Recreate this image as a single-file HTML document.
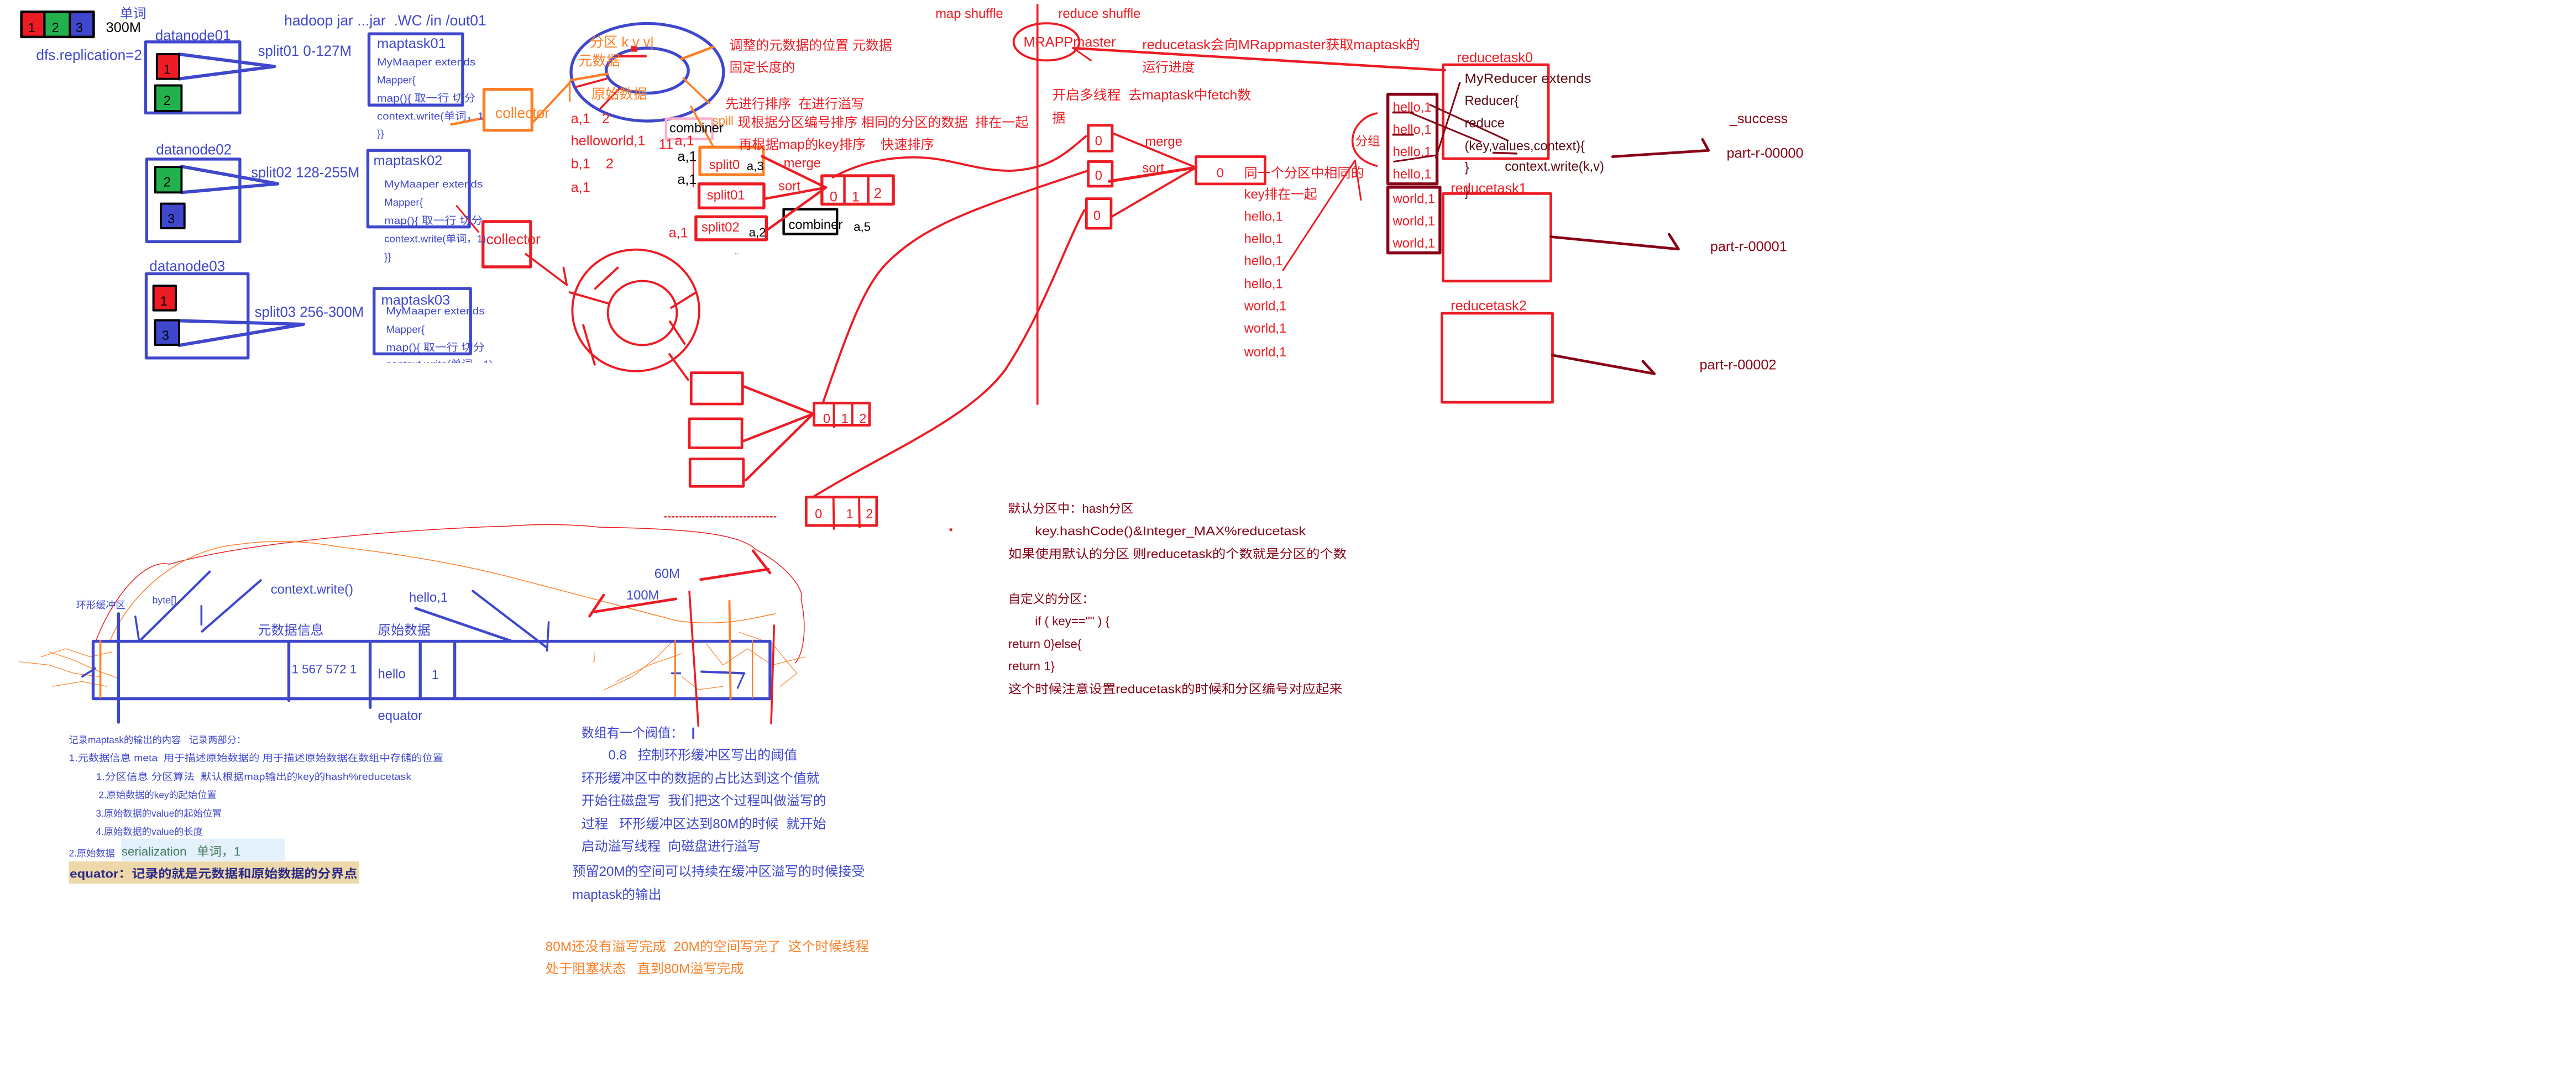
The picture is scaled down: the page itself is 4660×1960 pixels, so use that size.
<!DOCTYPE html>
<html><head><meta charset="utf-8"><style>
html,body{margin:0;padding:0;background:#fff;}
svg{display:block;}
text{font-family:"Liberation Sans","Noto Sans CJK SC",sans-serif;white-space:pre;}
</style></head><body>
<svg xmlns="http://www.w3.org/2000/svg" xml:space="preserve" width="4660" height="1960" viewBox="0 0 1568 659.5" preserveAspectRatio="none">
<defs><clipPath id="c3"><rect x="200" y="160" width="120" height="61"/></clipPath></defs>
<rect x="0" y="0" width="1568" height="660" fill="#fff"/>
<g fill="none" stroke-linecap="round" stroke-linejoin="round">
<rect x="13" y="7.2" width="14" height="15.3" fill="#ed1c24" stroke="#000" stroke-width="1.5"/>
<rect x="27" y="7.2" width="15.6" height="15.3" fill="#22b14c" stroke="#000" stroke-width="1.5"/>
<rect x="42.6" y="7.2" width="14.4" height="15.3" fill="#3f48cc" stroke="#000" stroke-width="1.5"/>
<g stroke="#3f48cc" stroke-width="1.8">
<rect x="88.6" y="25.5" width="57.4" height="43.3"/>
<rect x="89.3" y="96.9" width="56.7" height="50.3"/>
<rect x="89" y="166.7" width="62" height="51.3"/>
<rect x="224.6" y="20.6" width="57" height="43.4"/>
<rect x="223.9" y="91.6" width="61.8" height="46.6"/>
<rect x="227.7" y="175.7" width="58.7" height="39.8"/>
<polyline points="109,33 167,40.5 109,48" stroke-width="2"/>
<polyline points="110.6,101.4 169,111.9 110.6,117.2" stroke-width="2"/>
<polyline points="109,195.3 184.7,197.5 109,210.3" stroke-width="2"/>
</g>
<rect x="95.5" y="33" width="13.5" height="15" fill="#ed1c24" stroke="#000" stroke-width="1.3"/>
<rect x="94.5" y="52" width="16" height="15.6" fill="#22b14c" stroke="#000" stroke-width="1.3"/>
<rect x="94.5" y="101.7" width="16" height="15.5" fill="#22b14c" stroke="#000" stroke-width="1.3"/>
<rect x="97.9" y="124" width="14.4" height="15" fill="#3f48cc" stroke="#000" stroke-width="1.3"/>
<rect x="93.4" y="174" width="13.6" height="15" fill="#ed1c24" stroke="#000" stroke-width="1.3"/>
<rect x="94.4" y="195" width="14.6" height="15" fill="#3f48cc" stroke="#000" stroke-width="1.3"/>
<rect x="294.6" y="54.4" width="29.2" height="24.9" stroke="#ff7f27" stroke-width="1.8"/>
<line x1="274.7" y1="75.8" x2="294.6" y2="71.8" stroke="#ff7f27" stroke-width="1.5"/>
<line x1="323.8" y1="75.1" x2="347.5" y2="49.6" stroke="#ff7f27" stroke-width="1.3"/>
<line x1="346.8" y1="49.6" x2="346.8" y2="61.6" stroke="#ff7f27" stroke-width="1"/>
<rect x="294" y="134.9" width="29" height="27.6" stroke="#ed1c24" stroke-width="1.8"/>
<line x1="278" y1="125.4" x2="291.2" y2="141.2" stroke="#ed1c24" stroke-width="1"/>
<polyline points="320,154.7 345,173.5 343,163" stroke="#ed1c24" stroke-width="1.2"/>
<ellipse cx="394" cy="44" rx="46.4" ry="29.7" stroke="#3f48cc" stroke-width="1.8"/>
<ellipse cx="394" cy="43" rx="25" ry="13.7" stroke="#3f48cc" stroke-width="1.8"/>
<line x1="376" y1="34.2" x2="393" y2="34.2" stroke="#ed1c24" stroke-width="1.5"/>
<rect x="384" y="28" width="4" height="3.5" fill="#ed1c24" stroke="none"/>
<line x1="350.5" y1="53" x2="369" y2="48" stroke="#ed1c24" stroke-width="1.2"/>
<line x1="365.5" y1="66" x2="377" y2="54" stroke="#ed1c24" stroke-width="1.2"/>
<line x1="347.5" y1="48.8" x2="369.8" y2="45" stroke="#ff7f27" stroke-width="1.5"/>
<line x1="414.5" y1="36" x2="434.4" y2="28.5" stroke="#ff7f27" stroke-width="1.5"/>
<line x1="416" y1="47.8" x2="431.7" y2="62.8" stroke="#ff7f27" stroke-width="1.2"/>
<rect x="405.4" y="72.2" width="28.2" height="12.4" stroke="#ffaec9" stroke-width="1.5"/>
<line x1="420.7" y1="65" x2="434.4" y2="89.6" stroke="#ff7f27" stroke-width="1.2"/>
<rect x="426" y="89.6" width="38.6" height="16.8" stroke="#ff7f27" stroke-width="1.8"/>
<rect x="425.5" y="112" width="39.5" height="14.6" stroke="#ed1c24" stroke-width="1.8"/>
<rect x="423.6" y="132" width="42.9" height="14" stroke="#ed1c24" stroke-width="1.8"/>
<line x1="422" y1="96.3" x2="422" y2="113.7" stroke="#ed1c24" stroke-width="0.8"/>
<rect x="477" y="127.4" width="32.5" height="15.1" stroke="#000" stroke-width="1.5"/>
<rect x="500.3" y="107" width="43.5" height="17.3" stroke="#ed1c24" stroke-width="1.8"/>
<line x1="514" y1="107" x2="514" y2="124.3" stroke="#ed1c24" stroke-width="1.5"/>
<line x1="528.5" y1="107" x2="528.5" y2="124.3" stroke="#ed1c24" stroke-width="1.5"/>
<g stroke="#ed1c24" stroke-width="1.5">
<line x1="463.8" y1="95.2" x2="502.7" y2="114.2"/>
<line x1="465.7" y1="121" x2="502.7" y2="114.2"/>
<line x1="465.7" y1="141" x2="502.7" y2="114.2"/>
</g>
<g stroke="#ed1c24" stroke-width="1.3">
<path d="M507,108 C525,98 545,95 562,96 C580,97 595,104 615,104 C640,103 650,92 661,83"/>
<path d="M501,245 C515,205 525,175 540,160 C565,135 600,125 662,104"/>
<path d="M494.7,302.7 C540,275 590,255 612,225 C635,190 648,150 660,128"/>
<line x1="631.5" y1="3" x2="631.5" y2="246" stroke-width="1.2"/>
<ellipse cx="637" cy="25.5" rx="20" ry="11.3" stroke-width="1.3"/>
<line x1="879.5" y1="42.8" x2="653.3" y2="29.3" stroke-width="1.5"/>
<line x1="653.3" y1="29.3" x2="664" y2="36.8" stroke-width="1"/>
<rect x="662.4" y="76.3" width="14.6" height="15.7" stroke-width="1.6"/>
<rect x="662.4" y="98.4" width="14.6" height="15" stroke-width="1.6"/>
<rect x="661.3" y="121" width="15" height="18" stroke-width="1.6"/>
<rect x="728" y="95.4" width="42" height="16.6" stroke-width="1.6"/>
<line x1="677" y1="81" x2="728" y2="102"/>
<line x1="675.2" y1="110.4" x2="728" y2="102" stroke-width="1.8"/>
<line x1="676.3" y1="132.2" x2="728" y2="102"/>
<path d="M838,69 C822,72 815,95 838,101" stroke-width="1.2"/>
<polyline points="781,164.5 824.8,97.6 828.4,121.7" stroke-width="1"/>
<rect x="878.4" y="39.4" width="64.1" height="57.2" stroke-width="1.6"/>
<rect x="878.4" y="117.9" width="65.6" height="53.3" stroke-width="1.6"/>
<rect x="877.7" y="190.8" width="67.3" height="54.2" stroke-width="1.6"/>
</g>
<g stroke="#880015">
<rect x="844.8" y="57.4" width="29.9" height="54.6" stroke-width="1.8"/>
<rect x="844.8" y="114" width="31.7" height="40" stroke-width="1.8"/>
<line x1="870.4" y1="63.8" x2="917.8" y2="85.6" stroke-width="1"/>
<line x1="857.6" y1="68.3" x2="901.3" y2="86.4" stroke-width="1"/>
<line x1="874" y1="96.1" x2="888.6" y2="50.3" stroke-width="1"/>
<line x1="848.5" y1="98.4" x2="874" y2="94.6" stroke-width="1"/>
<line x1="848" y1="68.5" x2="860" y2="68.5" stroke-width="1.2"/>
<line x1="848" y1="82" x2="860" y2="82" stroke-width="1.2"/>
<line x1="909" y1="93" x2="923" y2="93.5" stroke-width="1.2"/>
<polyline points="981.6,95.4 1040,91.6 1036.3,84.9" stroke-width="1.6"/>
<polyline points="944,144.2 1021.7,151.7 1016,142.7" stroke-width="1.6"/>
<polyline points="945,216.3 1007,227.6 1000,220" stroke-width="1.6"/>
</g>
<g stroke="#ed1c24" stroke-width="1.3">
<ellipse cx="387" cy="189" rx="38.6" ry="37"/>
<ellipse cx="391" cy="190.6" rx="21" ry="19.5"/>
<line x1="346.8" y1="178" x2="370" y2="184.7"/>
<line x1="376" y1="163" x2="362.3" y2="175.7"/>
<line x1="408.6" y1="187.4" x2="423.1" y2="178.4"/>
<line x1="407.8" y1="195.8" x2="416.7" y2="209.3"/>
<line x1="407.5" y1="215.7" x2="418.8" y2="231.2"/>
<line x1="355" y1="198" x2="362" y2="222"/>
<rect x="420.7" y="227" width="31.3" height="19" stroke-width="1.6"/>
<rect x="419.6" y="255" width="32" height="17.7" stroke-width="1.6"/>
<rect x="420" y="279.5" width="32.5" height="16.7" stroke-width="1.6"/>
<line x1="452" y1="235" x2="495" y2="252" stroke-width="1.5"/>
<line x1="452" y1="268.8" x2="495" y2="252" stroke-width="1.5"/>
<line x1="454" y1="292.4" x2="495" y2="252" stroke-width="1.5"/>
<rect x="495.5" y="245.4" width="33.8" height="13.5" stroke-width="1.6"/>
<line x1="507.6" y1="245.4" x2="507.6" y2="260"/>
<line x1="518.8" y1="245.4" x2="518.8" y2="259"/>
<rect x="490.7" y="302.7" width="42.9" height="17.3" stroke-width="1.6"/>
<line x1="507.3" y1="302.7" x2="507.6" y2="322"/>
<line x1="522.9" y1="302.7" x2="523.2" y2="321"/>
<line x1="404.6" y1="314.7" x2="472.2" y2="314.7" stroke-width="0.8" stroke-dasharray="1,1.3"/>
</g>
<rect x="578" y="321.8" width="1.6" height="1.6" fill="#ed1c24" stroke="none"/>
<path d="M58.4,390.2 C70,360 90,340 103,343.6 C150,330 250,322 309,320.4 C340,318 364,321 364,321 C420,322 450,325 460,334.6 C480,345 490,360 487.6,364.7 C492,385 488,400 484,403.7" stroke="#ed1c24" stroke-width="0.5"/>
<path d="M67,390 C80,360 110,335 144,331.6 C170,328 190,330 206,333 C250,338 285,345 309,351 C350,362 390,372 412,378 C440,382 460,376 472,373.7" stroke="#ff7f27" stroke-width="0.5"/>
<g stroke="#ff7f27" stroke-width="0.4">
<polyline points="12,403 30,405 45,410 60,412"/>
<polyline points="30,397 45,402 58,408 72,413"/>
<polyline points="32,418 50,415 65,418"/>
<polyline points="25,400 40,395 55,400 68,397"/>
<polyline points="368,420 385,412 400,400 410,390"/>
<polyline points="375,415 395,405 415,398"/>
<polyline points="430,392 440,405 455,395 470,405 490,400"/>
<polyline points="450,385 470,392 485,410 475,418"/>
<polyline points="415,412 425,420 440,418"/>
</g>
<g stroke="#3f48cc" stroke-width="1.8">
<rect x="56.7" y="390.5" width="412" height="35"/>
<line x1="72.1" y1="373.7" x2="72.1" y2="439.8"/>
<line x1="175.8" y1="390.5" x2="175.8" y2="426.5"/>
<line x1="225.3" y1="390.5" x2="225.3" y2="430.8"/>
<line x1="255.8" y1="391.5" x2="255.8" y2="425.5"/>
<line x1="276.8" y1="390.5" x2="276.8" y2="425.5"/>
<line x1="127.7" y1="348.1" x2="85.9" y2="389.4" stroke-width="1.4"/>
<line x1="82.4" y1="375.5" x2="84.5" y2="389.4" stroke-width="1.2"/>
<line x1="158.7" y1="353.4" x2="123" y2="384.5" stroke-width="1.4"/>
<line x1="122.6" y1="369" x2="122.6" y2="380.4" stroke-width="1.2"/>
<line x1="253" y1="370.4" x2="310.8" y2="390.2" stroke-width="1.6"/>
<line x1="287.8" y1="359.9" x2="332.4" y2="394" stroke-width="1.4"/>
<line x1="334" y1="378.9" x2="333" y2="396.2" stroke-width="1.2"/>
<line x1="427" y1="409" x2="453" y2="410" stroke-width="1.4"/>
<line x1="453" y1="410" x2="449" y2="419" stroke-width="1"/>
<line x1="409" y1="410" x2="414" y2="410" stroke-width="1.2"/>
<line x1="50" y1="412" x2="58" y2="407" stroke-width="1.2"/>
</g>
<line x1="61.1" y1="390.2" x2="61.1" y2="424.7" stroke="#ff7f27" stroke-width="1.2"/>
<line x1="411" y1="390" x2="411" y2="424" stroke="#ff7f27" stroke-width="1"/>
<line x1="444" y1="366" x2="444.7" y2="425.5" stroke="#ff7f27" stroke-width="1.3"/>
<line x1="458" y1="390" x2="458" y2="425" stroke="#ff7f27" stroke-width="0.8"/>
<g stroke="#ed1c24" stroke-width="1.6">
<line x1="426.5" y1="352.9" x2="467.7" y2="346.6"/>
<line x1="458.4" y1="335.4" x2="468.7" y2="348.9"/>
<line x1="411.4" y1="364.7" x2="362.3" y2="372.5"/>
<line x1="367.4" y1="362.4" x2="358.9" y2="375.2"/>
<line x1="419.6" y1="360.2" x2="425.1" y2="442" stroke-width="1.2"/>
<line x1="471.2" y1="380.9" x2="469.4" y2="440.5" stroke-width="1.2"/>
</g>
<line x1="422" y1="443.6" x2="422" y2="449.5" stroke="#3f48cc" stroke-width="1.2"/>
<rect x="73.8" y="510.7" width="99.6" height="13.5" fill="#e4f0fb" stroke="none"/>
<rect x="41.9" y="524.6" width="176.5" height="13.5" fill="#eed7a9" stroke="none"/>
</g>

<g font-size="9">
<text x="17" y="19.5" fill="#000" font-size="8">1</text>
<text x="31.5" y="19.5" fill="#000" font-size="8">2</text>
<text x="46" y="19.5" fill="#000" font-size="8">3</text>
<text x="73" y="11" fill="#3f48cc" font-size="8">单词</text>
<text x="64.5" y="19.5" fill="#000" font-size="8.5">300M</text>
<text x="22" y="36.5" fill="#3f48cc" textLength="64.5" lengthAdjust="spacingAndGlyphs">dfs.replication=2</text>
<text x="173" y="15.5" fill="#3f48cc" textLength="123" lengthAdjust="spacingAndGlyphs">hadoop jar ...jar  .WC /in /out01</text>
<text x="94.5" y="24.5" fill="#3f48cc" textLength="46" lengthAdjust="spacingAndGlyphs">datanode01</text>
<text x="95" y="94" fill="#3f48cc" textLength="46" lengthAdjust="spacingAndGlyphs">datanode02</text>
<text x="91" y="165" fill="#3f48cc" textLength="46" lengthAdjust="spacingAndGlyphs">datanode03</text>
<text x="99.5" y="45" fill="#000" font-size="8">1</text>
<text x="99.5" y="64" fill="#000" font-size="8">2</text>
<text x="99.5" y="113.5" fill="#000" font-size="8">2</text>
<text x="102" y="136" fill="#000" font-size="8">3</text>
<text x="97.5" y="186" fill="#000" font-size="8">1</text>
<text x="98.5" y="207" fill="#000" font-size="8">3</text>
<text x="157" y="34" fill="#3f48cc" textLength="57" lengthAdjust="spacingAndGlyphs">split01 0-127M</text>
<text x="152.8" y="108" fill="#3f48cc" textLength="66" lengthAdjust="spacingAndGlyphs">split02 128-255M</text>
<text x="155" y="193" fill="#3f48cc" textLength="66.5" lengthAdjust="spacingAndGlyphs">split03 256-300M</text>
</g>
<g fill="#3f48cc" font-size="6.3">
<text x="229.5" y="29.3" font-size="8.5" textLength="42" lengthAdjust="spacingAndGlyphs">maptask01</text>
<text x="229.5" y="39.8" textLength="60" lengthAdjust="spacingAndGlyphs">MyMaaper extends</text>
<text x="229.5" y="50.8">Mapper{</text>
<text x="229.5" y="61.9" textLength="60" lengthAdjust="spacingAndGlyphs">map(){ 取一行 切分</text>
<text x="229.5" y="72.8" textLength="65" lengthAdjust="spacingAndGlyphs">context.write(单词，1</text>
<text x="229.5" y="83.4">}}</text>
<text x="227.3" y="100.6" font-size="8.5" textLength="42" lengthAdjust="spacingAndGlyphs">maptask02</text>
<text x="233.9" y="114.2" textLength="60" lengthAdjust="spacingAndGlyphs">MyMaaper extends</text>
<text x="233.9" y="125.4">Mapper{</text>
<text x="233.9" y="136.4" textLength="60" lengthAdjust="spacingAndGlyphs">map(){ 取一行 切分</text>
<text x="233.9" y="147.6" textLength="62" lengthAdjust="spacingAndGlyphs">context.write(单词，1)</text>
<text x="233.9" y="158.5">}}</text>
<text x="232" y="185.5" font-size="8.5" textLength="42" lengthAdjust="spacingAndGlyphs">maptask03</text>
<text x="235" y="191.5" textLength="60" lengthAdjust="spacingAndGlyphs">MyMaaper extends</text>
<text x="235" y="202.8">Mapper{</text>
<text x="235" y="213.7" textLength="60" lengthAdjust="spacingAndGlyphs">map(){ 取一行 切分</text>
<text x="235" y="224" clip-path="url(#c3)" textLength="65" lengthAdjust="spacingAndGlyphs">context.write(单词，1)</text>
</g>
<text x="301.5" y="71.8" fill="#ff7f27" font-size="9" textLength="33" lengthAdjust="spacingAndGlyphs">collector</text>
<text x="296" y="148.7" fill="#ed1c24" font-size="9" textLength="33" lengthAdjust="spacingAndGlyphs">collector</text>
<g font-size="8.5" fill="#ff7f27">
<text x="359" y="28.5" textLength="39" lengthAdjust="spacingAndGlyphs">分区 k v v|</text>
<text x="352" y="39.8">元数据</text>
<text x="360" y="60">原始数据</text>
<text x="433.6" y="76" font-size="7.5">spill</text>
</g>
<g font-size="8.5" fill="#ed1c24">
<text x="347.5" y="75">a,1   2</text>
<text x="347.5" y="88.5">helloworld,1</text>
<text x="347.5" y="102.5">b,1    2</text>
<text x="347.5" y="117">a,1</text>
<text x="444" y="30.2" font-size="8" textLength="99" lengthAdjust="spacingAndGlyphs">调整的元数据的位置 元数据</text>
<text x="444" y="43.7" font-size="8">固定长度的</text>
<text x="441.6" y="66" font-size="8" textLength="84.5" lengthAdjust="spacingAndGlyphs">先进行排序  在进行溢写</text>
<text x="449" y="77.3" font-size="8" textLength="177" lengthAdjust="spacingAndGlyphs">现根据分区编号排序 相同的分区的数据  排在一起</text>
<text x="449.6" y="90.7" font-size="8" textLength="119" lengthAdjust="spacingAndGlyphs">再根据map的key排序    快速排序</text>
<text x="401" y="90.7">11</text>
<text x="410.7" y="88.5">a,1</text>
<text x="431.6" y="103" font-size="8">split0</text>
<text x="430.3" y="121.5" font-size="8">split01</text>
<text x="427" y="141" font-size="8">split02</text>
<text x="407" y="144.5">a,1</text>
<text x="477" y="102" font-size="8">merge</text>
<text x="473.8" y="116" font-size="8">sort</text>
<text x="505" y="122.6">0</text>
<text x="518.5" y="122.6">1</text>
<text x="532" y="120.4">2</text>
<text x="447" y="154.8" font-size="5">..</text>
<text x="501" y="257.6" font-size="8">0</text>
<text x="512" y="257.6" font-size="8">1</text>
<text x="523" y="257.6" font-size="8">2</text>
<text x="496" y="315.6" font-size="8">0</text>
<text x="515" y="315.6" font-size="8">1</text>
<text x="527" y="315.6" font-size="8">2</text>
</g>
<g font-size="8.5" fill="#000">
<text x="407.5" y="80.6" font-size="8">combiner</text>
<text x="454.5" y="103.6" font-size="7.5">a,3</text>
<text x="412.3" y="98">a,1</text>
<text x="412.3" y="112">a,1</text>
<text x="455.8" y="144" font-size="7.5">a,2</text>
<text x="480" y="139.4" font-size="8">combiner</text>
<text x="519.6" y="140.6" font-size="7.5">a,5</text>
</g>
<g font-size="8" fill="#ed1c24">
<text x="569.4" y="11">map shuffle</text>
<text x="644.2" y="11">reduce shuffle</text>
<text x="623" y="28.5" font-size="8.5">MRAPPmaster</text>
<text x="695.3" y="30" textLength="169" lengthAdjust="spacingAndGlyphs">reducetask会向MRappmaster获取maptask的</text>
<text x="695.3" y="43.5">运行进度</text>
<text x="640.5" y="60.5" textLength="121" lengthAdjust="spacingAndGlyphs">开启多线程  去maptask中fetch数</text>
<text x="640.5" y="74.5">据</text>
<text x="666.5" y="88.5">0</text>
<text x="666.5" y="109.5">0</text>
<text x="665.5" y="134">0</text>
<text x="697" y="88.8">merge</text>
<text x="695.3" y="105">sort</text>
<text x="740.5" y="108">0</text>
<text x="757.3" y="108" textLength="73" lengthAdjust="spacingAndGlyphs">同一个分区中相同的</text>
<text x="757.3" y="121">key排在一起</text>
<text x="757.3" y="134.5">hello,1</text>
<text x="757.3" y="148">hello,1</text>
<text x="757.3" y="161.5">hello,1</text>
<text x="757.3" y="175.5">hello,1</text>
<text x="757.3" y="189">world,1</text>
<text x="757.3" y="202.5">world,1</text>
<text x="757.3" y="217">world,1</text>
<text x="825" y="88.5" font-size="7.5">分组</text>
<text x="847.8" y="68">hello,1</text>
<text x="847.8" y="81.6">hello,1</text>
<text x="847.8" y="95">hello,1</text>
<text x="847.8" y="108.6">hello,1</text>
<text x="847.8" y="123.7">world,1</text>
<text x="847.8" y="137.2">world,1</text>
<text x="847.8" y="150.7">world,1</text>
<text x="886.8" y="37.8" font-size="8.5">reducetask0</text>
<text x="883" y="117.5" font-size="8.5">reducetask1</text>
<text x="883" y="189" font-size="8.5">reducetask2</text>
</g>
<g font-size="8" fill="#5a0a14">
<text x="891.5" y="50.5" textLength="77" lengthAdjust="spacingAndGlyphs">MyReducer extends</text>
<text x="891.5" y="64">Reducer{</text>
<text x="891.5" y="77.5">reduce</text>
<text x="891.5" y="91.5">(key,values,context){</text>
<text x="916" y="104">context.write(k,v)</text>
<text x="891.5" y="104.5">}</text>
<text x="891.5" y="119.5">}</text>
</g>
<g font-size="8.5" fill="#880015">
<text x="1052.8" y="75">_success</text>
<text x="1051" y="96">part-r-00000</text>
<text x="1041" y="153">part-r-00001</text>
<text x="1034.5" y="225">part-r-00002</text>
</g>
<g font-size="7.5" fill="#880015">
<text x="613.7" y="312.3">默认分区中：hash分区</text>
<text x="630" y="325.8" textLength="164.8" lengthAdjust="spacingAndGlyphs">key.hashCode()&amp;Integer_MAX%reducetask</text>
<text x="613.7" y="339.8" textLength="206" lengthAdjust="spacingAndGlyphs">如果使用默认的分区 则reducetask的个数就是分区的个数</text>
<text x="613.7" y="367.2">自定义的分区：</text>
<text x="630" y="380.7">if ( key=="" ) {</text>
<text x="613.7" y="394.7">return 0}else{</text>
<text x="613.7" y="408.1">return 1}</text>
<text x="613.7" y="422.1" textLength="203.5" lengthAdjust="spacingAndGlyphs">这个时候注意设置reducetask的时候和分区编号对应起来</text>
</g>
<g fill="#3f48cc" font-size="8">
<text x="46.4" y="370.5" font-size="6">环形缓冲区</text>
<text x="92.7" y="367.5" font-size="6">byte[]</text>
<text x="164.8" y="361.5">context.write()</text>
<text x="249" y="366.5">hello,1</text>
<text x="157" y="386.5">元数据信息</text>
<text x="230" y="386.5">原始数据</text>
<text x="177.5" y="410" font-size="7.5">1 567 572 1</text>
<text x="230" y="413">hello</text>
<text x="262.7" y="413.5">1</text>
<text x="230" y="438.5">equator</text>
<text x="398.3" y="352">60M</text>
<text x="381.2" y="365">100M</text>
</g>
<g fill="#3f48cc" font-size="5.8">
<text x="41.9" y="452.5">记录maptask的输出的内容   记录两部分：</text>
<text x="41.9" y="463.5" textLength="228" lengthAdjust="spacingAndGlyphs">1.元数据信息 meta  用于描述原始数据的 用于描述原始数据在数组中存储的位置</text>
<text x="58.4" y="475" textLength="192" lengthAdjust="spacingAndGlyphs">1.分区信息 分区算法  默认根据map输出的key的hash%reducetask</text>
<text x="60" y="486">2.原始数据的key的起始位置</text>
<text x="58.4" y="497.3">3.原始数据的value的起始位置</text>
<text x="58.4" y="508.5">4.原始数据的value的长度</text>
<text x="41.9" y="521.5">2.原始数据</text>
</g>
<text x="74" y="521" fill="#3f7a5a" font-size="7.5" font-family="Liberation Mono, Noto Sans CJK SC, monospace">serialization   单词，1</text>
<text x="42.5" y="534.5" fill="#2a2a8a" font-size="7.3" font-weight="bold" textLength="175" lengthAdjust="spacingAndGlyphs">equator：记录的就是元数据和原始数据的分界点</text>
<g fill="#3f48cc" font-size="8">
<text x="353.9" y="449" textLength="62" lengthAdjust="spacingAndGlyphs">数组有一个阀值：</text>
<text x="370.3" y="462.5" textLength="115" lengthAdjust="spacingAndGlyphs">0.8   控制环形缓冲区写出的阈值</text>
<text x="353.9" y="476.7" textLength="145" lengthAdjust="spacingAndGlyphs">环形缓冲区中的数据的占比达到这个值就</text>
<text x="353.9" y="490.2" textLength="149" lengthAdjust="spacingAndGlyphs">开始往磁盘写  我们把这个过程叫做溢写的</text>
<text x="353.9" y="504.4" textLength="149" lengthAdjust="spacingAndGlyphs">过程   环形缓冲区达到80M的时候  就开始</text>
<text x="353.9" y="518" textLength="109" lengthAdjust="spacingAndGlyphs">启动溢写线程  向磁盘进行溢写</text>
<text x="348.4" y="533.3" textLength="178" lengthAdjust="spacingAndGlyphs">预留20M的空间可以持续在缓冲区溢写的时候接受</text>
<text x="348.4" y="547.5">maptask的输出</text>
</g>
<g fill="#ff7f27" font-size="8">
<text x="332" y="579" textLength="197" lengthAdjust="spacingAndGlyphs">80M还没有溢写完成  20M的空间写完了  这个时候线程</text>
<text x="332" y="592.5" textLength="120.7" lengthAdjust="spacingAndGlyphs">处于阻塞状态   直到80M溢写完成</text>
<text x="361" y="402" font-size="6">j</text>
</g>
</svg>
</body></html>
